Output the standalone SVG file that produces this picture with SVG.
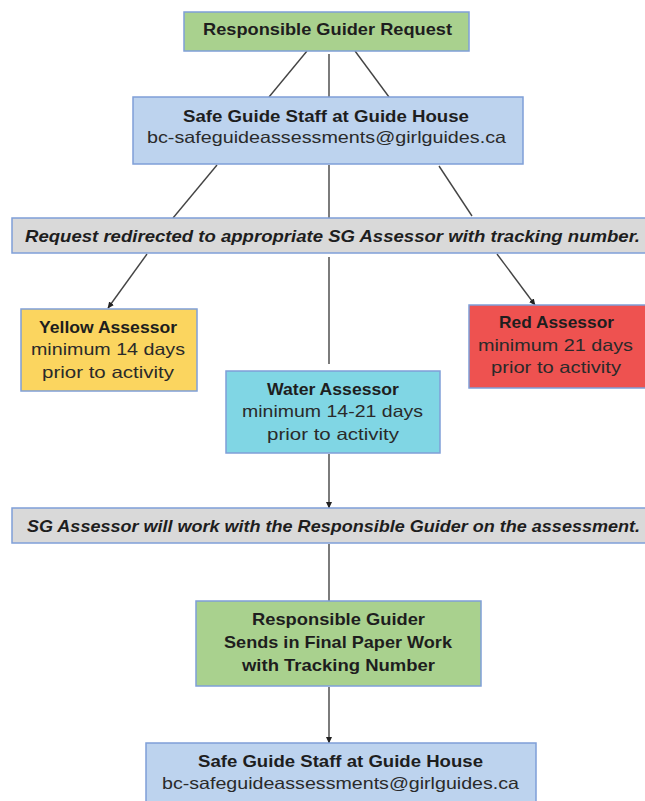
<svg xmlns="http://www.w3.org/2000/svg" width="645" height="801" viewBox="0 0 645 801">
<defs>
<marker id="ah" markerWidth="7" markerHeight="7" refX="6" refY="3.5" orient="auto" markerUnits="userSpaceOnUse">
<path d="M0,0.5 L6.5,3.5 L0,6.5 Z" fill="#222"/>
</marker>
<style>
.box{stroke:#7F9FD8;stroke-width:1.5}
.green{fill:#A9D18E}
.blue{fill:#BDD3EE}
.gray{fill:#D9D9D9}
.yellow{fill:#FBD55F}
.red{fill:#EE5250}
.cyan{fill:#80D6E4}
text{font-family:"Liberation Sans",Arial,sans-serif;text-anchor:middle}
.b{font-weight:bold;font-size:16.5px;fill:#1E1E1E}
.r{font-size:16.5px;fill:#2A2A2A}
.i{font-weight:bold;font-style:italic;font-size:16.5px;fill:#1E1E1E}
.c{stroke:#444;stroke-width:1.4;fill:none}
.a{marker-end:url(#ah)}
</style>
</defs>
<rect width="645" height="801" fill="#FFFFFF"/>
<g id="connectors">
<line class="c" x1="307" y1="51" x2="269" y2="97"/>
<line class="c" x1="329" y1="54" x2="329" y2="97"/>
<line class="c" x1="355" y1="51" x2="389" y2="97"/>
<line class="c" x1="217" y1="165" x2="173" y2="218"/>
<line class="c" x1="329" y1="165" x2="329" y2="218"/>
<line class="c" x1="439" y1="166" x2="472" y2="216"/>
<line class="c a" x1="147" y1="254" x2="108" y2="308"/>
<line class="c" x1="329" y1="257" x2="329" y2="364"/>
<line class="c a" x1="497" y1="254" x2="535" y2="305"/>
<line class="c a" x1="329" y1="454" x2="329" y2="508"/>
<line class="c" x1="329" y1="544" x2="329" y2="601"/>
<line class="c a" x1="329" y1="687" x2="329" y2="743"/>
</g>
<g id="request">
<rect class="box green" x="184" y="12" width="285" height="39"/>
<text class="b" x="327.5" y="35" textLength="249" lengthAdjust="spacingAndGlyphs">Responsible Guider Request</text>
</g>
<g id="staff-top">
<rect class="box blue" x="133" y="97" width="390" height="67"/>
<text class="b" x="326" y="122" textLength="286" lengthAdjust="spacingAndGlyphs">Safe Guide Staff at Guide House</text>
<text class="r" x="326.5" y="143" textLength="359" lengthAdjust="spacingAndGlyphs">bc-safeguideassessments@girlguides.ca</text>
</g>
<g id="redirect">
<rect class="box gray" x="12" y="218" width="634" height="35"/>
<text class="i" x="332.5" y="242" textLength="615" lengthAdjust="spacingAndGlyphs">Request redirected to appropriate SG Assessor with tracking number.</text>
</g>
<g id="yellow">
<rect class="box yellow" x="21" y="309" width="176" height="82"/>
<text class="b" x="108" y="333" textLength="138" lengthAdjust="spacingAndGlyphs">Yellow Assessor</text>
<text class="r" x="108" y="355" textLength="154" lengthAdjust="spacingAndGlyphs">minimum 14 days</text>
<text class="r" x="108" y="378" textLength="132" lengthAdjust="spacingAndGlyphs">prior to activity</text>
</g>
<g id="red">
<rect class="box red" x="469" y="305" width="177" height="83"/>
<text class="b" x="556.5" y="328" textLength="115" lengthAdjust="spacingAndGlyphs">Red Assessor</text>
<text class="r" x="555.5" y="351" textLength="155" lengthAdjust="spacingAndGlyphs">minimum 21 days</text>
<text class="r" x="556" y="373" textLength="130" lengthAdjust="spacingAndGlyphs">prior to activity</text>
</g>
<g id="water">
<rect class="box cyan" x="226" y="371" width="214" height="82"/>
<text class="b" x="333" y="395" textLength="132" lengthAdjust="spacingAndGlyphs">Water Assessor</text>
<text class="r" x="332.5" y="417" textLength="181" lengthAdjust="spacingAndGlyphs">minimum 14-21 days</text>
<text class="r" x="333" y="440" textLength="132" lengthAdjust="spacingAndGlyphs">prior to activity</text>
</g>
<g id="work">
<rect class="box gray" x="12" y="508" width="634" height="35"/>
<text class="i" x="333.5" y="532" textLength="613" lengthAdjust="spacingAndGlyphs">SG Assessor will work with the Responsible Guider on the assessment.</text>
</g>
<g id="final">
<rect class="box green" x="196" y="601" width="285" height="85"/>
<text class="b" x="338.5" y="625" textLength="173" lengthAdjust="spacingAndGlyphs">Responsible Guider</text>
<text class="b" x="338" y="648" textLength="228" lengthAdjust="spacingAndGlyphs">Sends in Final Paper Work</text>
<text class="b" x="338.5" y="671" textLength="193" lengthAdjust="spacingAndGlyphs">with Tracking Number</text>
</g>
<g id="staff-bottom">
<rect class="box blue" x="146" y="743" width="390" height="70"/>
<text class="b" x="340.5" y="767" textLength="285" lengthAdjust="spacingAndGlyphs">Safe Guide Staff at Guide House</text>
<text class="r" x="340.5" y="789" textLength="357" lengthAdjust="spacingAndGlyphs">bc-safeguideassessments@girlguides.ca</text>
</g>
</svg>
